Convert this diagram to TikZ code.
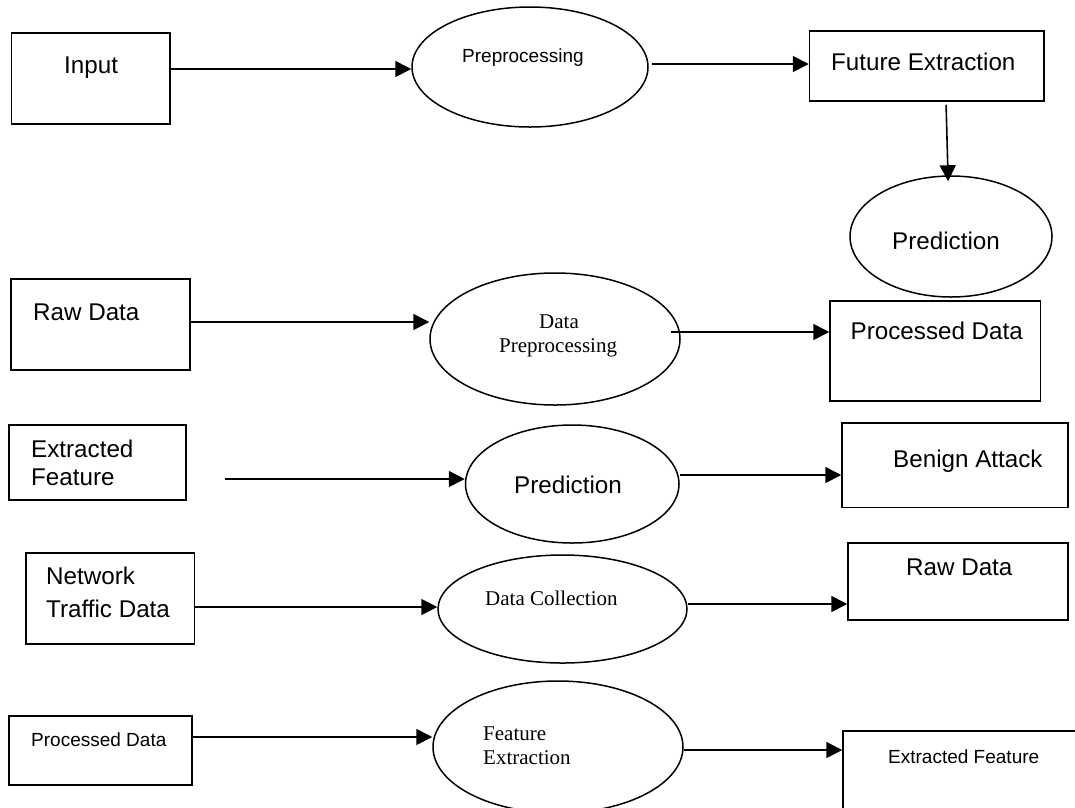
\documentclass[tikz,border=0pt]{standalone}
\usepackage{fontspec}
\setmainfont{Liberation Sans}
\newfontfamily\serifx{Liberation Serif}
\usetikzlibrary{arrows.meta,shapes.geometric,calc}
\begin{document}
\begin{tikzpicture}[x=1pt,y=-1pt,
  box/.style={draw, line width=1.5pt, rectangle, inner sep=0pt},
  ell/.style={draw, line width=1.5pt, ellipse, inner sep=0pt},
  arr/.style={-{Triangle[length=16pt,width=16pt]}, line width=1.6pt},
  big/.style={font=\fontsize{24.2pt}{28pt}\selectfont, anchor=base west, inner sep=0pt},
  small/.style={font=\fontsize{19pt}{23pt}\selectfont, anchor=base west, inner sep=0pt},
  ser/.style={font=\serifx\fontsize{21pt}{24pt}\selectfont, anchor=base west, inner sep=0pt}]
\useasboundingbox (0,0) rectangle (1075,807);
\clip (0,0) rectangle (1075,807);
% row 1
\node[box, minimum width=158.6pt, minimum height=91pt] (input) at (90.7,78.5) {};
\node[ell, minimum width=236pt, minimum height=120pt] (pre) at (530,67) {};
\node[box, minimum width=234.5pt, minimum height=70pt] (fext) at (926.75,66) {};
\node[ell, minimum width=202pt, minimum height=121pt] (pred1) at (951,236.5) {};
\node[big] (tinput) at (64,73) {Input};
\node[small] (tpre) at (462,62) {Preprocessing};
\node[big] (tfext) at (831,70.5) {Future Extraction};
\node[big] (tpred1) at (892,249) {Prediction};
\draw[arr] (input.east |- 0,69) -- (pre.west |- 0,69);
\draw[arr, shorten <=3pt] (pre.east |- 0,64) -- (fext.west |- 0,64);
\draw[arr, shorten <=3pt, shorten >=-6pt] (fext.south -| 946,0) -- (pred1.north -| 948,0);
% row 2
\node[box, minimum width=179pt, minimum height=91pt] (raw1) at (100.5,324.5) {};
\node[ell, minimum width=250pt, minimum height=132pt] (dpre) at (555,339) {};
\node[box, minimum width=210.5pt, minimum height=100pt] (proc1) at (935.25,351) {};
\node[big] (traw1) at (33,320.5) {Raw Data};
\node[ser] (tdpre1) at (539,328.5) {Data};
\node[ser] (tdpre2) at (499,352) {Preprocessing};
\node[big] (tproc1) at (850.5,339.5) {Processed Data};
\draw[arr] (raw1.east |- 0,322) -- (dpre.west |- 0,322);
\draw[arr, shorten <=-10pt] (dpre.east |- 0,332) -- (proc1.west |- 0,332);
% row 3
\node[box, minimum width=177pt, minimum height=75pt] (extr1) at (97.5,462.5) {};
\node[ell, minimum width=213.5pt, minimum height=118pt] (pred2) at (572.25,484) {};
\node[box, minimum width=226pt, minimum height=84.5pt] (benign) at (955,465.25) {};
\node[big] (textr1a) at (31,457.5) {Extracted};
\node[big] (textr1b) at (31,485.5) {Feature};
\node[big] (tpred2) at (514,493.5) {Prediction};
\node[big] (tbenign) at (893,467.5) {Benign Attack};
\draw[arr, shorten <=38pt] (extr1.east |- 0,479) -- (pred2.west |- 0,479);
\draw[arr] (pred2.east |- 0,475) -- (benign.west |- 0,475);
% row 4
\node[box, minimum width=168.5pt, minimum height=91pt] (net) at (110.25,598.5) {};
\node[ell, minimum width=249pt, minimum height=108pt] (dcol) at (562.5,609) {};
\node[box, minimum width=220pt, minimum height=77pt] (raw2) at (958,581.5) {};
\node[big] (tneta) at (46,584.5) {Network};
\node[big] (tnetb) at (46,617.5) {Traffic Data};
\node[ser] (tdcol) at (485,605) {Data Collection};
\node[big] (traw2) at (906,575.5) {Raw Data};
\draw[arr] (net.east |- 0,607) -- (dcol.west |- 0,607);
\draw[arr] (dcol.east |- 0,604) -- (raw2.west |- 0,604);
% row 5
\node[box, minimum width=183pt, minimum height=69pt] (proc2) at (100.5,750.5) {};
\node[ell, minimum width=250pt, minimum height=132pt] (fext2) at (558,747) {};
\node[box, minimum width=250pt, minimum height=100pt] (extr2) at (968,781) {};
\node[small] (tproc2) at (31,746) {Processed Data};
\node[ser] (tfext2a) at (483,740) {Feature};
\node[ser] (tfext2b) at (483,764) {Extraction};
\node[small] (textr2) at (888,763) {Extracted Feature};
\draw[arr] (proc2.east |- 0,737) -- (fext2.west |- 0,737);
\draw[arr] (fext2.east |- 0,750) -- (extr2.west |- 0,750);
\end{tikzpicture}
\end{document}
